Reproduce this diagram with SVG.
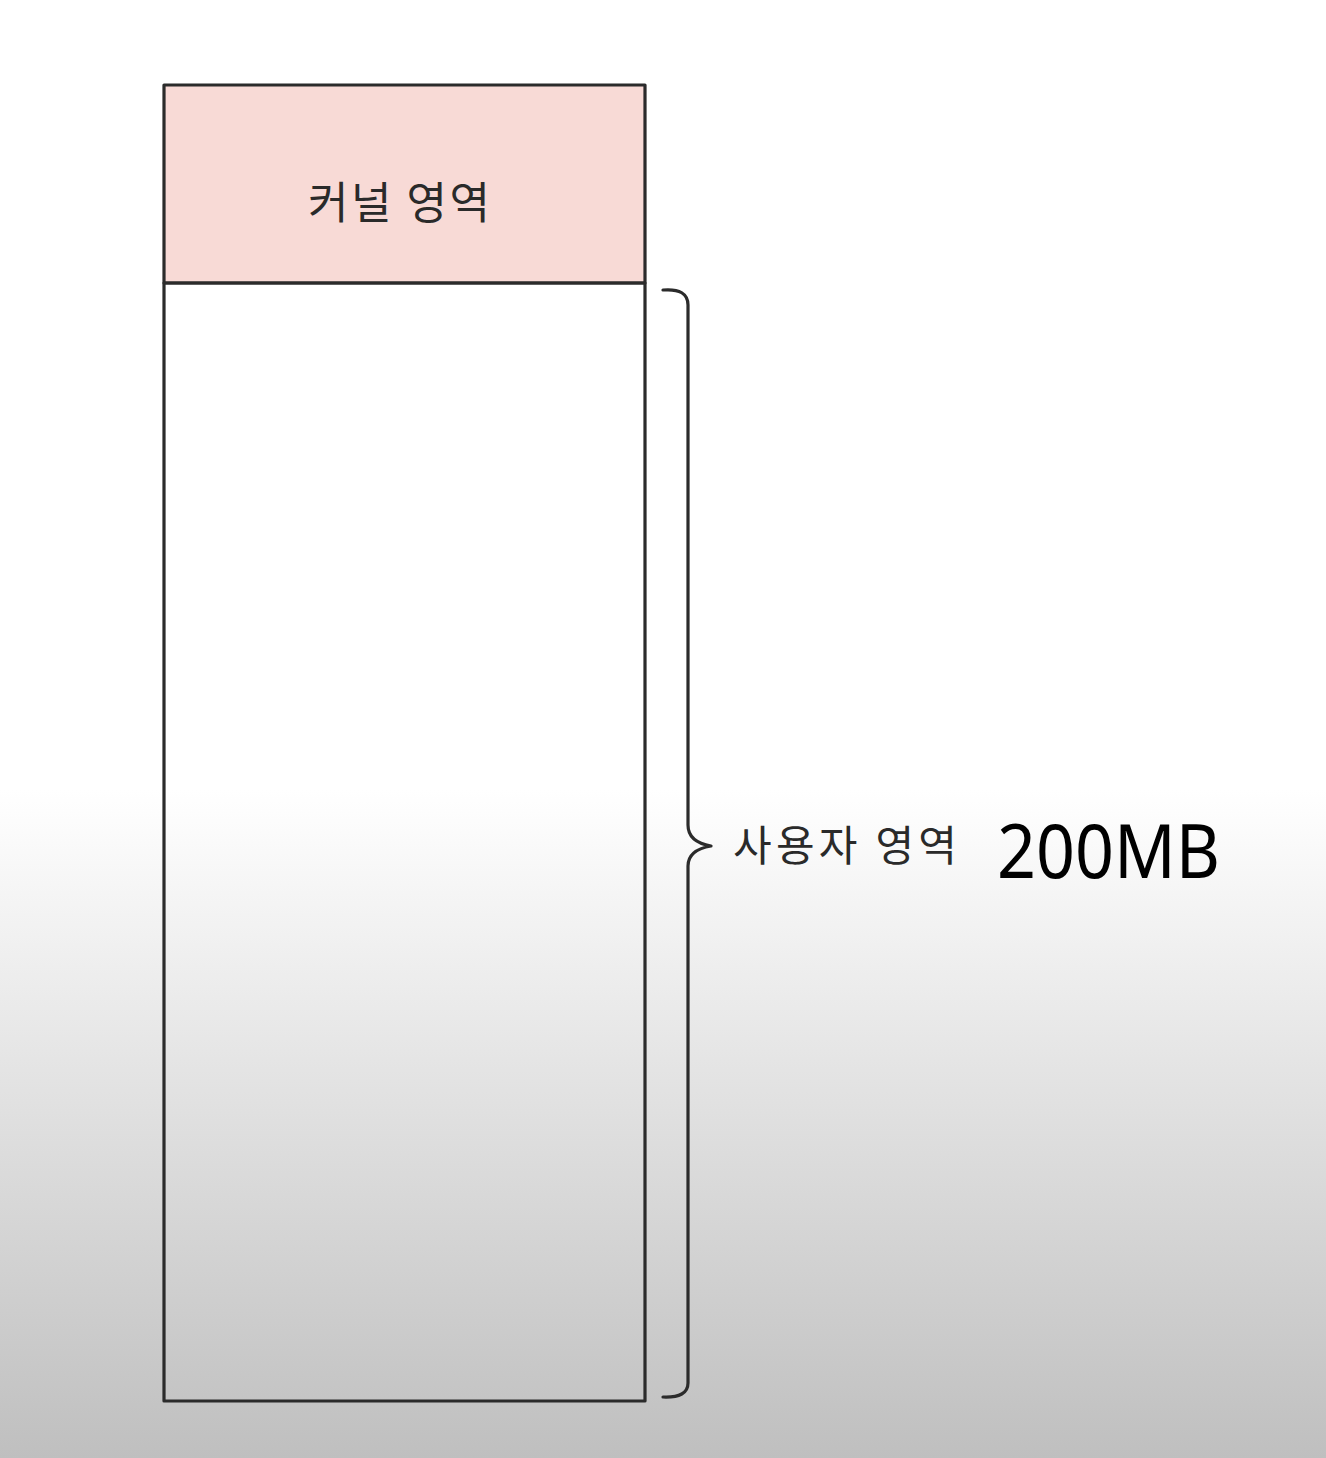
<svg xmlns="http://www.w3.org/2000/svg" width="1326" height="1458" viewBox="0 0 1326 1458">
<defs>
<linearGradient id="bg" x1="0" y1="790" x2="0" y2="1458" gradientUnits="userSpaceOnUse">
<stop offset="0" stop-color="#ffffff"/>
<stop offset="0.45" stop-color="#e2e2e2"/>
<stop offset="1" stop-color="#bfbfbf"/>
</linearGradient>
<style>
.ln{stroke:#2b2b2b;stroke-width:3.2;stroke-linecap:round;stroke-linejoin:round}
.kr{font-family:"Noto Sans CJK KR","Noto Sans",sans-serif;fill:#2a2a2a}
</style>
</defs>
<rect x="0" y="0" width="1326" height="1458" fill="url(#bg)"/>
<g id="kernel">
<rect x="164" y="85" width="481" height="198" fill="#f8dad6" class="ln"/>
<text class="kr" x="399" y="219" font-size="44" text-anchor="middle" textLength="182">커널 영역</text>
</g>
<g id="user">
<rect x="164" y="283" width="481" height="1118" fill="none" class="ln"/>
</g>
<g id="connectors">
<path class="ln" fill="none" d="M663 290 Q688 288 688 305 L688 825 Q688 842 711 846 Q688 850 688 866 L688 1383 Q688 1398 663 1397"/>
</g>
<g id="labels">
<text class="kr" x="733" y="861" font-size="42" textLength="224">사용자 영역</text>
<text x="997" y="878" font-family="Noto Sans, sans-serif" font-size="74" fill="#000" textLength="223" lengthAdjust="spacingAndGlyphs">200MB</text>
</g>
</svg>
